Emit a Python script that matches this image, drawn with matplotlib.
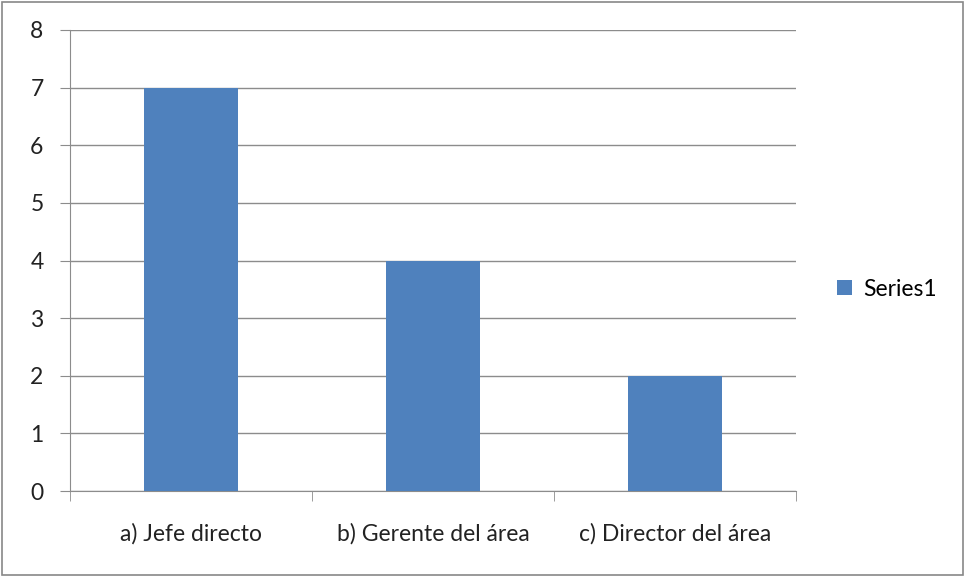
import numpy as np
import matplotlib.pyplot as plt
from matplotlib.patches import Rectangle

plt.rcParams['font.family'] = ['Lato', 'DejaVu Sans']

categories = ['a) Jefe directo', 'b) Gerente del área', 'c) Director del área']
values = [7, 4, 2]
series_name = 'Series1'

bar_color = '#4F81BD'
grid_color = '#8C8C8C'
fsize = 16.5

fig = plt.figure(figsize=(9.65, 5.77), dpi=100)
ax = fig.add_axes([70 / 965, 86 / 577, 726 / 965, 461 / 577])

x = np.arange(len(categories))
ax.bar(x, values, width=0.39, color=bar_color, label=series_name, zorder=3)

ax.set_xlim(-0.5, len(categories) - 0.5)
ax.set_ylim(0, 8)
ax.set_yticks(range(0, 9))
ax.yaxis.grid(True, color=grid_color, linewidth=1, zorder=0)

ax.set_xticks(x)
ax.set_xticklabels(categories)
ax.set_xticks(np.arange(-0.5, len(categories)), minor=True)
ax.tick_params(axis='x', which='major', length=0, pad=23, labelsize=fsize, colors='#222222')
ax.tick_params(axis='x', which='minor', length=7, color=grid_color, direction='out')
ax.tick_params(axis='y', length=7, color=grid_color, pad=12, labelsize=fsize, labelcolor='#222222')

for side in ['top', 'right']:
    ax.spines[side].set_visible(False)
for side in ['left', 'bottom']:
    ax.spines[side].set_color(grid_color)

fig.legend(loc='center left', bbox_to_anchor=(816 / 965, 1 - 289 / 577), frameon=False,
           fontsize=fsize, handlelength=0.65, handleheight=0.65, handletextpad=0.5)

fig.patches.append(Rectangle((0.002, 0.003), 0.996, 0.994, transform=fig.transFigure,
                             fill=False, edgecolor='#888888', linewidth=1.2))

fig.savefig('out.png', dpi=100)
